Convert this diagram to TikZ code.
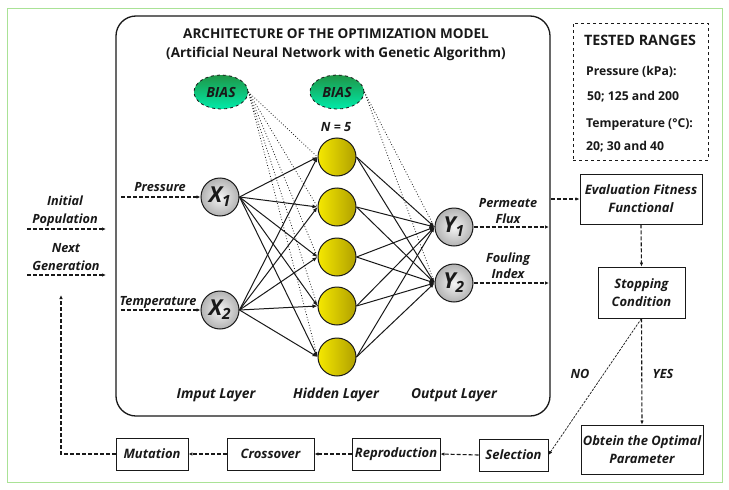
\documentclass[tikz,border=0pt]{standalone}
\usepackage{fontspec}
\setmainfont{Open Sans}
\usetikzlibrary{arrows.meta,shapes.geometric,calc}
\definecolor{frame}{RGB}{170,226,150}
\definecolor{yl}{RGB}{245,232,0}
\definecolor{yr}{RGB}{176,160,0}
\definecolor{bt}{RGB}{30,150,70}
\definecolor{bb}{RGB}{0,235,170}
\definecolor{ink}{RGB}{25,25,25}
\begin{document}
\begin{tikzpicture}[x=1pt,y=-1pt,
  every node/.style={text=ink},
  neuron/.style={circle,draw=ink,line width=1pt,minimum size=38pt,inner sep=0pt},
  hid/.style={neuron,left color=yl,right color=yr},
  io/.style={neuron,inner color=gray!8,outer color=gray!60,font=\fontsize{22}{22}\selectfont\bfseries\itshape},
  bias/.style={ellipse,draw=ink,dashed,line width=0.8pt,minimum width=54pt,minimum height=34pt,inner sep=0pt,top color=bt,bottom color=bb,font=\fontsize{14}{15}\selectfont\bfseries\itshape},
  fbox/.style={draw=ink,line width=0.9pt,align=center,inner sep=0pt,font=\fontsize{13}{18}\selectfont\bfseries\itshape},
  lbl/.style={font=\fontsize{12.7}{16}\selectfont\bfseries\itshape,align=center,inner sep=0pt},
  layer/.style={font=\fontsize{13.8}{15}\selectfont\bfseries\itshape,inner sep=0pt},
  rng/.style={font=\fontsize{12.2}{13}\selectfont\bfseries,anchor=west,inner sep=0pt},
  wire/.style={draw=ink,line width=1pt,-{Latex[length=5pt,width=4pt]}},
  darrow/.style={draw=ink,dash pattern=on 4pt off 2pt,line width=1.1pt,-{Latex[length=4pt,width=3.5pt]}},
  biasline/.style={draw=ink,dotted,line width=0.8pt}
]
\useasboundingbox (0,0) rectangle (729,490);
\fill[white] (0,0) rectangle (729,490);
\draw[frame,line width=1pt] (7,8) rectangle (722,482);

% main box
\node[draw=ink,line width=1.3pt,rounded corners=20pt,minimum width=434pt,minimum height=400pt,inner sep=0pt] (main) at (333,216) {};
\node[font=\fontsize{13.5}{16}\selectfont\bfseries,inner sep=0pt] (t1) at (336,34) {ARCHITECTURE OF THE OPTIMIZATION MODEL};
\node[font=\fontsize{13.5}{16}\selectfont\bfseries,inner sep=0pt] (t2) at (336,54) {(Artificial Neural Network with Genetic Algorithm)};

% bias
\node[bias] (b1) at (221,92) {BIAS};
\node[bias] (b2) at (337,92) {BIAS};
\node[lbl] (n5) at (336,127) {N = 5};

% neurons
\node[io] (x1) at (220,197) {X\textsubscript{1}};
\node[io] (x2) at (220,310) {X\textsubscript{2}};
\node[hid] (h1) at (337,157) {};
\node[hid] (h2) at (337,207) {};
\node[hid] (h3) at (337,257) {};
\node[hid] (h4) at (337,306) {};
\node[hid] (h5) at (337,357) {};
\node[io] (y1) at (454,227) {Y\textsubscript{1}};
\node[io] (y2) at (454,283) {Y\textsubscript{2}};

% bias lines
\foreach \h in {h1,h2,h3,h4,h5} \draw[biasline] (b1.east) -- (\h.west);
\foreach \y in {y1,y2} \draw[biasline] (b2.east) -- (\y.west);

% connections
\foreach \x in {x1,x2}
  \foreach \h in {h1,h2,h3,h4,h5}
    \draw[wire] (\x.east) -- (\h.west);
\foreach \h in {h1,h2,h3,h4,h5}
  \foreach \y in {y1,y2}
    \draw[wire] (\h.east) -- (\y.west);

% layer labels
\node[layer] (l1) at (216,395) {Imput Layer};
\node[layer] (l2) at (336,395) {Hidden Layer};
\node[layer] (l3) at (454,395) {Output Layer};

% inputs
\coordinate (pin1) at (121,197);
\coordinate (pin2) at (121,310);
\draw[darrow] (pin1) -- (x1.west);
\draw[darrow] (pin2) -- (x2.west);
\node[lbl] (lp) at (160,187) {Pressure};
\node[lbl] (lt) at (158,302) {Temperature};

% outputs
\coordinate (po1) at (549,227);
\coordinate (po2) at (549,283);
\draw[darrow] (y1.east) -- (po1);
\draw[darrow] (y2.east) -- (po2);
\node[lbl] (lf) at (508,211) {Permeate\\Flux};
\node[lbl] (lfi) at (508,266) {Fouling\\Index};

% left side
\coordinate (ia) at (27,229);
\coordinate (ib) at (106,229);
\coordinate (na) at (27,275);
\coordinate (nb) at (106,275);
\draw[darrow] (ia) -- (ib);
\draw[darrow] (na) -- (nb);
\node[lbl,font=\fontsize{12.7}{18}\selectfont\bfseries\itshape] (lip) at (65,211) {Initial\\Population};
\node[lbl,font=\fontsize{12.7}{18}\selectfont\bfseries\itshape] (lng) at (66,257) {Next\\Generation};

% tested ranges
\node[draw=ink,dashed,line width=0.9pt,minimum width=135pt,minimum height=137pt,inner sep=0pt] (tr) at (640.5,91.5) {};
\node[font=\fontsize{14.3}{16}\selectfont\bfseries,inner sep=0pt] (trt) at (640,40) {TESTED RANGES};
\node[rng] (r1) at (586,72) {Pressure (kPa):};
\node[rng] (r2) at (587,97) {50; 125 and 200};
\node[rng] (r3) at (586,125) {Temperature (\textdegree C):};
\node[rng] (r4) at (586,147) {20; 30 and 40};

% GA flow
\node[fbox,minimum width=122pt,minimum height=50pt] (eval) at (641,199) {Evaluation Fitness\\Functional};
\node[fbox,minimum width=87pt,minimum height=51pt] (stop) at (641.5,292.5) {Stopping\\Condition};
\node[fbox,minimum width=122pt,minimum height=49pt] (opt) at (642,449.5) {Obtein the Optimal\\Parameter};
\node[fbox,minimum width=69pt,minimum height=32pt] (sel) at (513.5,455) {Selection};
\node[fbox,minimum width=88pt,minimum height=32pt] (rep) at (396,454) {Reproduction};
\node[fbox,minimum width=87pt,minimum height=32pt] (cro) at (270.5,454) {Crossover};
\node[fbox,minimum width=72pt,minimum height=32pt] (mut) at (152,454) {Mutation};

\coordinate (ev) at (551,199);
\draw[darrow] (ev) -- (eval.west);
\draw[darrow] (eval.south) -- (stop.north);
\draw[darrow] (stop.south) -- (opt.north);
\draw[darrow,dash pattern=on 2.5pt off 1.2pt,line width=0.7pt] (stop.south) -- (sel.east);
\node[lbl] (yes) at (663,374) {YES};
\node[lbl] (no) at (580,374) {NO};
\draw[darrow] (sel.west) -- (rep.east);
\draw[darrow] (rep.west) -- (cro.east);
\draw[darrow] (cro.west) -- (mut.east);
\coordinate (up) at (61,295);
\draw[darrow] (mut.west) -| (up);
\end{tikzpicture}
\end{document}
